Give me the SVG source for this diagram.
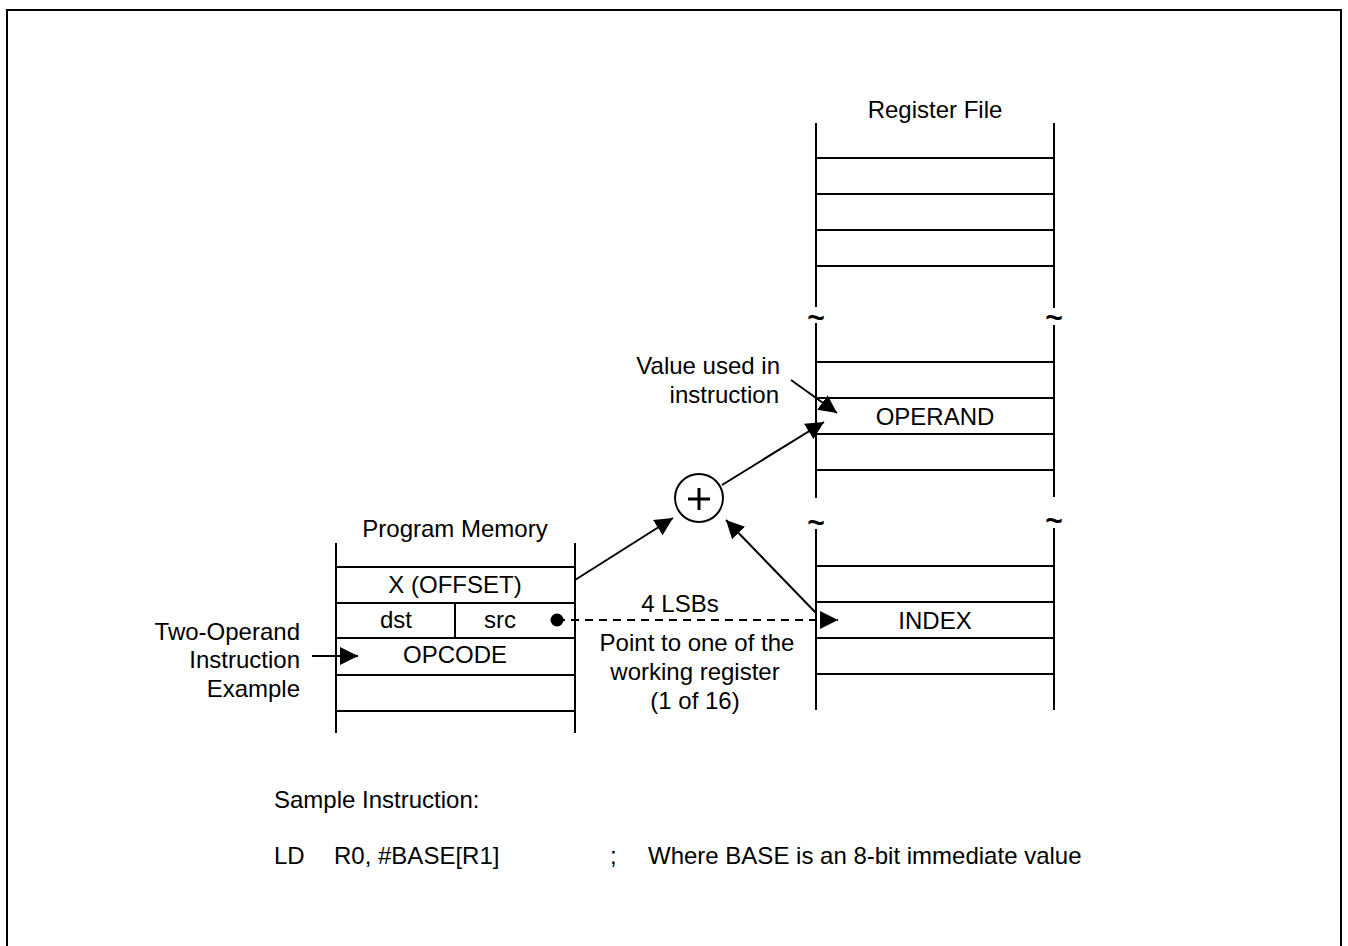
<svg xmlns="http://www.w3.org/2000/svg" width="1348" height="946" viewBox="0 0 1348 946">
<style>
text{font-family:"Liberation Sans",Arial,sans-serif;font-size:24px;fill:#000}
.m{text-anchor:middle}
.e{text-anchor:end}
.ln{stroke:#000;stroke-width:2;fill:none}
.tl{font-size:30px;font-weight:bold;text-anchor:middle}
</style>
<defs>
<marker id="ah" markerUnits="userSpaceOnUse" markerWidth="18" markerHeight="18" refX="16" refY="8" orient="auto" viewBox="0 0 16 16">
<path d="M0,0 L16,8 L0,16 z" fill="#000"/>
</marker>
</defs>
<rect width="1348" height="946" fill="#fff"/>
<path class="ln" d="M7,946 V10 H1341 V946" stroke-width="3"/>

<g id="register-file">
<text class="m" x="935" y="118">Register File</text>
<path class="ln" d="M816,123 V307 M1054,123 V308 M816,323 V498 M1054,325 V497 M816,529 V710 M1054,528 V710"/>
<path class="ln" d="M816,158 H1054 M816,194 H1054 M816,230 H1054 M816,266 H1054 M816,362 H1054 M816,398 H1054 M816,434 H1054 M816,470 H1054 M816,566 H1054 M816,602 H1054 M816,638 H1054 M816,674 H1054"/>
<text class="tl" x="816" y="328">~</text>
<text class="tl" x="1054" y="328">~</text>
<text class="tl" x="816" y="533">~</text>
<text class="tl" x="1054" y="531">~</text>
</g>
<g id="operand"><text class="m" x="935" y="425">OPERAND</text></g>
<g id="index"><text class="m" x="935" y="629">INDEX</text></g>

<g id="program-memory">
<text class="m" x="455" y="537">Program Memory</text>
<path class="ln" d="M336,543 V733 M575,543 V733 M336,567 H575 M336,603 H575 M336,638 H575 M336,675 H575 M336,711 H575 M455,603 V638"/>
<text class="m" x="455" y="593">X (OFFSET)</text>
<text class="m" x="396" y="628">dst</text>
<text class="m" x="500" y="628">src</text>
<text class="m" x="455" y="663">OPCODE</text>
</g>

<g id="adder">
<circle cx="699" cy="498" r="24" class="ln"/>
<path d="M688,499 H710 M699,488 V510" stroke="#000" stroke-width="3"/>
</g>

<g id="labels">
<text class="e" x="300" y="640">Two-Operand</text>
<text class="e" x="300" y="668">Instruction</text>
<text class="e" x="300" y="697">Example</text>
<text class="e" x="780" y="374">Value used in</text>
<text class="e" x="779" y="403">instruction</text>
<text class="m" x="680" y="612">4 LSBs</text>
<text class="m" x="697" y="651">Point to one of the</text>
<text class="m" x="695" y="680">working register</text>
<text class="m" x="695" y="709">(1 of 16)</text>
<text x="274" y="808">Sample Instruction:</text>
<text x="274" y="864">LD</text>
<text x="334" y="864">R0, #BASE[R1]</text>
<text x="610" y="864">;</text>
<text x="648" y="864">Where BASE is an 8-bit immediate value</text>
</g>

<g id="connectors">
<line class="ln" x1="312" y1="656" x2="358" y2="656" marker-end="url(#ah)"/>
<line class="ln" x1="575" y1="580" x2="673" y2="518" marker-end="url(#ah)"/>
<line class="ln" x1="816" y1="613" x2="726" y2="520" marker-end="url(#ah)"/>
<line class="ln" x1="722" y1="485" x2="824" y2="422" marker-end="url(#ah)"/>
<line class="ln" x1="791" y1="380" x2="837" y2="413" marker-end="url(#ah)"/>
<circle cx="557" cy="620" r="6.5" fill="#000"/>
<line class="ln" x1="557" y1="620" x2="838" y2="620" stroke-dasharray="8,6" marker-end="url(#ah)"/>
</g>
</svg>
